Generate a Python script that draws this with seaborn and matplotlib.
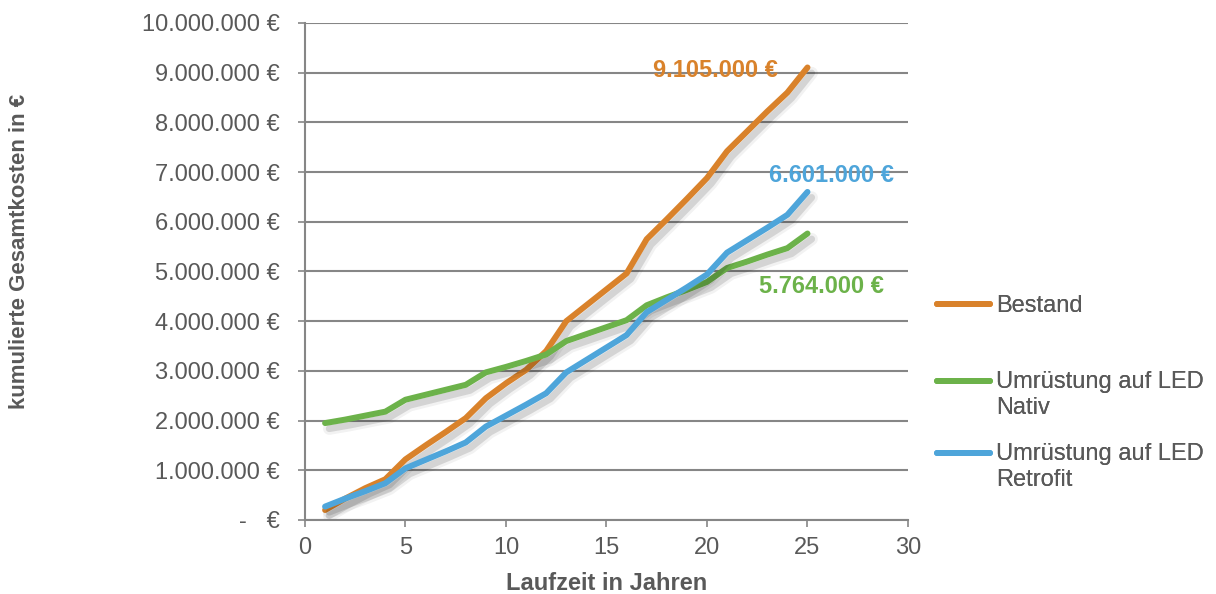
import matplotlib
matplotlib.use("Agg")
import matplotlib.pyplot as plt
import matplotlib.patheffects as pe
import matplotlib.ticker as mticker
from matplotlib.legend_handler import HandlerLine2D
import numpy as np
import pandas as pd
import seaborn as sns

# Cumulative total costs per year of operation (EUR)
years = list(range(1, 26))
bestand = [200000, 430000, 640000, 820000, 1220000, 1500000, 1770000, 2050000,
           2450000, 2750000, 3020000, 3400000, 4000000, 4320000, 4640000, 4960000,
           5650000, 6050000, 6460000, 6880000, 7420000, 7820000, 8220000, 8600000,
           9105000]
led_nativ = [1950000, 2020000, 2100000, 2180000, 2420000, 2520000, 2620000, 2720000,
             2970000, 3080000, 3200000, 3330000, 3600000, 3740000, 3880000, 4020000,
             4320000, 4480000, 4630000, 4790000, 5070000, 5200000, 5340000, 5470000,
             5764000]
led_retrofit = [270000, 430000, 580000, 740000, 1040000, 1210000, 1380000, 1560000,
                1880000, 2100000, 2320000, 2550000, 2970000, 3220000, 3470000, 3720000,
                4180000, 4430000, 4680000, 4940000, 5380000, 5630000, 5880000, 6140000,
                6601000]

series_names = ["Bestand", "Umrüstung auf LED\nNativ", "Umrüstung auf LED\nRetrofit"]
colors = ["#D9822B", "#6CB24A", "#4EA5DA"]
end_labels = ["9.105.000 €", "5.764.000 €", "6.601.000 €"]

df = pd.DataFrame({
    "Jahr": years * 3,
    "Kosten": bestand + led_nativ + led_retrofit,
    "Variante": [series_names[0]] * 25 + [series_names[1]] * 25 + [series_names[2]] * 25,
})

sns.set_theme(style="white")
plt.rcParams["font.family"] = ["Liberation Sans", "DejaVu Sans"]
text_gray = "#595959"
axis_gray = "#868686"
fs = 17

fig = plt.figure(figsize=(12.16, 5.94), dpi=100)
ax = fig.add_axes([0.2508, 0.1246, 0.4959, 0.8367])

sns.lineplot(data=df, x="Jahr", y="Kosten", hue="Variante", hue_order=series_names,
             palette=colors, linewidth=4.3, ax=ax, legend=False)

shadow = [pe.SimpleLineShadow(offset=(3, -4), shadow_color="#000000", alpha=0.05, linewidth=9),
          pe.SimpleLineShadow(offset=(3, -4), shadow_color="#000000", alpha=0.12, linewidth=5),
          pe.Normal()]
for line in ax.get_lines():
    line.set_solid_capstyle("round")
    line.set_solid_joinstyle("round")
    line.set_path_effects(shadow)

ax.set_xlim(0, 30)
ax.set_ylim(0, 10000000)
ax.set_xticks(range(0, 31, 5))
ax.set_yticks(range(0, 10000001, 1000000))


def euro_fmt(v, pos):
    if v == 0:
        return "-   €"
    return f"{int(v):,} €".replace(",", ".")


ax.yaxis.set_major_formatter(mticker.FuncFormatter(euro_fmt))
ax.grid(axis="y", color=axis_gray, linewidth=1.5)
ax.grid(axis="x", visible=False)
for side in ["top", "right"]:
    ax.spines[side].set_visible(False)
for side in ["left", "bottom"]:
    ax.spines[side].set_color(axis_gray)
    ax.spines[side].set_linewidth(1.5)
ax.tick_params(axis="both", which="major", length=5, width=1.2, color=axis_gray,
               labelsize=fs, labelcolor=text_gray, direction="out",
               left=True, bottom=True)
ax.tick_params(axis="y", pad=13)
ax.tick_params(axis="x", pad=7)

ax.set_xlabel("Laufzeit in Jahren", fontsize=fs, fontweight="bold", color=text_gray)
ax.xaxis.label.set_va("center")
ax.xaxis.set_label_coords(0.5, -0.127)
ax.set_ylabel("kumulierte Gesamtkosten in €", fontsize=16, fontweight="bold", color=text_gray)
ax.yaxis.label.set_va("center")
ax.yaxis.set_label_coords(-0.473, 0.54)

# Final-year value labels
label_pos = [(20.4, 9090000), (25.7, 4750000), (26.2, 6980000)]
for txt, col, (lx, ly) in zip(end_labels, colors, label_pos):
    ax.text(lx, ly, txt, color=col, fontsize=fs, fontweight="bold",
            ha="center", va="center_baseline")


class FirstLineHandler(HandlerLine2D):
    """Line handle aligned with the first text line of a multi-line label."""

    def __init__(self, shift=0.0, **kw):
        super().__init__(**kw)
        self.shift = shift

    def create_artists(self, legend, orig_handle, xdescent, ydescent, width, height,
                       fontsize, trans):
        artists = super().create_artists(legend, orig_handle, xdescent, ydescent,
                                         width, height, fontsize, trans)
        for a in artists:
            if hasattr(a, "set_ydata"):
                a.set_ydata(np.asarray(a.get_ydata()) + self.shift)
        return artists


# Legend entries, one block per series
legend_centers = [306, 395, 467]
for name, col, yc in zip(series_names, colors, legend_centers):
    h = plt.Line2D([], [], color=col, linewidth=4.3, solid_capstyle="round")
    shift = 0.6 * fs if "\n" in name else 0.0
    leg = fig.legend([h], [name], loc="center left",
                     bbox_to_anchor=(937 / 1216, 1 - yc / 594),
                     frameon=False, fontsize=fs, handlelength=2.25, handletextpad=0.25,
                     borderpad=0, borderaxespad=0, labelcolor=text_gray,
                     handler_map={h: FirstLineHandler(shift=shift)})
    fig.add_artist(leg)

fig.savefig("out.png", dpi=100)
